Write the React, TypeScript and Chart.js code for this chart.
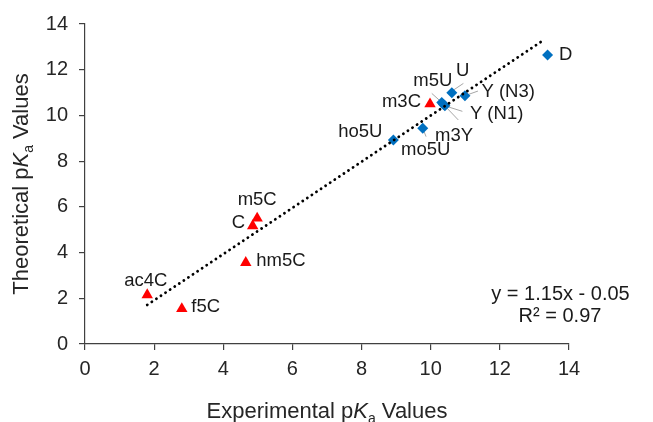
import React, { useEffect, useRef } from "react";
import { Chart, registerables } from "chart.js";

Chart.register(...registerables);

// ---- data ----
const blueLabels = ["ho5U", "mo5U", "m5U", "m3Y", "Y (N1)", "U", "Y (N3)", "D"];
const blueX = [8.92, 9.77, 10.32, 10.37, 10.41, 10.61, 10.99, 13.38];
const blueY = [8.92, 9.44, 10.57, 10.48, 10.42, 10.99, 10.86, 12.64];

const redLabels = ["ac4C", "f5C", "hm5C", "C", "m5C", "m3C"];
const redX = [1.8, 2.8, 4.65, 4.85, 4.98, 9.98];
const redY = [2.15, 1.54, 3.56, 5.17, 5.5, 10.5];

const trendX = [1.8, 13.24];
const trendY = [1.71, 13.27];

const axisMin = 0;
const axisMax = 14;
const axisStep = 2;

const equationLines = ["y = 1.15x - 0.05", "R\u00B2 = 0.97"];
const xTitleParts = ["Experimental p", "K", "a", " Values"];
const yTitleParts = ["Theoretical p", "K", "a", " Values"];

// ---- layout / style (pixel offsets of labels relative to their point) ----
const FONT = "'Liberation Sans', Arial, sans-serif";
const labelPlacement: Record<string, { dx: number; dy: number; align: CanvasTextAlign }> = {
  ho5U: { dx: -11, dy: -8, align: "right" },
  mo5U: { dx: 3, dy: 22, align: "center" },
  m5U: { dx: -9, dy: -21, align: "center" },
  m3Y: { dx: 10.5, dy: 31.5, align: "center" },
  "Y (N1)": { dx: 25, dy: 8.5, align: "left" },
  U: { dx: 11, dy: -22, align: "center" },
  "Y (N3)": { dx: 16.5, dy: -4, align: "left" },
  D: { dx: 11.5, dy: 0, align: "left" },
  ac4C: { dx: -1.5, dy: -13.5, align: "center" },
  f5C: { dx: 9.5, dy: -1.5, align: "left" },
  hm5C: { dx: 10.5, dy: -1.5, align: "left" },
  C: { dx: -7.5, dy: -2.5, align: "right" },
  m5C: { dx: 0, dy: -18.5, align: "center" },
  m3C: { dx: -9, dy: -2, align: "right" },
};
const leaders: Record<string, number[]> = {
  U: [1.6, -2.7, 11.6, -9.4],
  "Y (N3)": [1.7, -0.7, 13, -4.7],
  "Y (N1)": [0, 0, 17.5, 5.5],
  m3Y: [0, 0, 14.8, 15.5],
  mo5U: [0, 0, 3.3, 8.4],
  m5U: [-10, -9, 0, 0],
};

function drawRichTitle(ctx: CanvasRenderingContext2D, parts: string[], size: number) {
  const main = `${size}px ${FONT}`;
  const ital = `italic ${size}px ${FONT}`;
  const sub = `${Math.round(size * 0.65)}px ${FONT}`;
  ctx.font = main;
  const w0 = ctx.measureText(parts[0]).width;
  ctx.font = ital;
  const w1 = ctx.measureText(parts[1]).width;
  ctx.font = sub;
  const w2 = ctx.measureText(parts[2]).width;
  ctx.font = main;
  const w3 = ctx.measureText(parts[3]).width;
  const total = w0 + w1 + w2 + w3;
  let x = -total / 2;
  ctx.textAlign = "left";
  ctx.textBaseline = "alphabetic";
  ctx.font = main;
  ctx.fillText(parts[0], x, 0);
  x += w0;
  ctx.font = ital;
  ctx.fillText(parts[1], x, 0);
  x += w1;
  ctx.font = sub;
  ctx.fillText(parts[2], x, size * 0.22);
  x += w2;
  ctx.font = main;
  ctx.fillText(parts[3], x, 0);
}

const annotationPlugin = {
  id: "annotations",
  beforeDatasetsDraw(chart: any) {
    const ctx = chart.ctx as CanvasRenderingContext2D;
    ctx.save();
    ctx.strokeStyle = "#a6a6a6";
    ctx.lineWidth = 1;
    [1, 2].forEach((di) => {
      const labels = di === 1 ? blueLabels : redLabels;
      const meta = chart.getDatasetMeta(di);
      labels.forEach((lab, i) => {
        const l = leaders[lab];
        if (!l) return;
        const p = meta.data[i];
        ctx.beginPath();
        ctx.moveTo(p.x + l[0], p.y + l[1]);
        ctx.lineTo(p.x + l[2], p.y + l[3]);
        ctx.stroke();
      });
    });
    ctx.restore();
  },
  afterDraw(chart: any) {
    const ctx = chart.ctx as CanvasRenderingContext2D;
    const area = chart.chartArea;
    ctx.save();
    ctx.fillStyle = "#1a1a1a";
    ctx.font = `18.5px ${FONT}`;
    ctx.textBaseline = "middle";
    [1, 2].forEach((di) => {
      const labels = di === 1 ? blueLabels : redLabels;
      const meta = chart.getDatasetMeta(di);
      labels.forEach((lab, i) => {
        const p = meta.data[i];
        const pl = labelPlacement[lab];
        ctx.textAlign = pl.align;
        ctx.fillText(lab, p.x + pl.dx, p.y + pl.dy);
      });
    });
    // equation
    ctx.font = `20px ${FONT}`;
    ctx.textAlign = "center";
    ctx.fillText(equationLines[0], area.right - 8.5, area.bottom - 50);
    ctx.fillText(equationLines[1], area.right - 9, area.bottom - 27.5);
    // axis titles
    ctx.fillStyle = "#262626";
    ctx.save();
    ctx.translate((area.left + area.right) / 2, 418);
    drawRichTitle(ctx, xTitleParts, 22);
    ctx.restore();
    ctx.save();
    ctx.translate(28, (area.top + area.bottom) / 2);
    ctx.rotate(-Math.PI / 2);
    drawRichTitle(ctx, yTitleParts, 22);
    ctx.restore();
    ctx.restore();
  },
};

export default function App() {
  const ref = useRef<HTMLCanvasElement | null>(null);
  useEffect(() => {
    if (!ref.current) return;
    const axisCommon = {
      type: "linear" as const,
      min: axisMin,
      max: axisMax,
      border: { display: true, color: "#404040", width: 1.2 },
      grid: {
        display: true,
        drawOnChartArea: false,
        drawTicks: true,
        tickLength: 6,
        color: "#404040",
        lineWidth: 1.2,
      },
    };
    const chart = new Chart(ref.current, {
      type: "scatter",
      data: {
        datasets: [
          {
            type: "line",
            data: trendX.map((x, i) => ({ x, y: trendY[i] })),
            borderColor: "#000000",
            borderWidth: 2.8,
            borderDash: [0.1, 5.4],
            borderCapStyle: "round",
            pointRadius: 0,
            fill: false,
          } as any,
          {
            data: blueX.map((x, i) => ({ x, y: blueY[i] })),
            backgroundColor: "#0070c0",
            borderColor: "#0070c0",
            borderWidth: 0,
            pointStyle: "rectRot",
            pointRadius: 5.5,
          },
          {
            data: redX.map((x, i) => ({ x, y: redY[i] })),
            backgroundColor: "#ff0000",
            borderColor: "#ff0000",
            borderWidth: 0,
            pointStyle: "triangle",
            pointRadius: 6.6,
          },
        ],
      },
      options: {
        animation: false,
        responsive: false,
        layout: { padding: { left: 0, top: 24, right: 84, bottom: 0 } },
        plugins: { legend: { display: false }, tooltip: { enabled: false } },
        scales: {
          x: {
            ...axisCommon,
            position: "bottom",
            afterFit: (s: any) => {
              s.height = 78;
            },
            ticks: {
              stepSize: axisStep,
              padding: 7,
              color: "#262626",
              font: { family: FONT, size: 20 },
            },
          },
          y: {
            ...axisCommon,
            position: "left",
            afterFit: (s: any) => {
              s.width = 85;
            },
            ticks: {
              stepSize: axisStep,
              padding: 11,
              color: "#262626",
              font: { family: FONT, size: 20 },
            },
          },
        },
      } as any,
      plugins: [annotationPlugin],
    });
    return () => chart.destroy();
  }, []);
  return (
    <div style={{ position: "fixed", left: 0, top: 0, width: 653, height: 422, background: "#fff" }}>
      <canvas ref={ref} width={653} height={422} />
    </div>
  );
}
